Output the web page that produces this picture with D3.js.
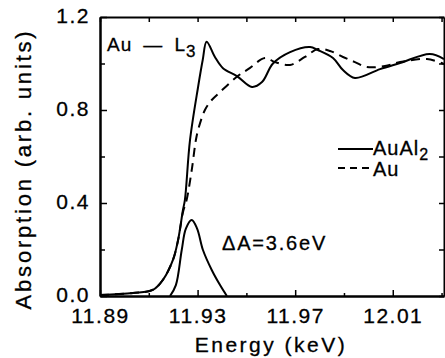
<!DOCTYPE html>
<html>
  <head>
    <meta charset="utf-8" />
    <title>Au L3 edge absorption</title>
    <script src="https://d3js.org/d3.v7.min.js"></script>
    <style>
      body { margin: 0; background: #fff; }
      svg text { font-family: "Liberation Sans", Arial, sans-serif; fill: #000; stroke: #000; stroke-width: 0.3; }
      .axis path, .axis line { stroke: #000; }
      .axis path { stroke-width: 2; }
      .axis line { stroke-width: 1.5; }
      .curve { fill: none; stroke: #000; stroke-width: 2; }
    </style>
  </head>
  <body>
    <svg width="445" height="358"></svg>
    <script>
      // AuAl2 (solid)
      const auAl2Energy = [11.89, 11.9035, 11.9117, 11.9158, 11.9199, 11.922, 11.924, 11.9248, 11.9269,
        11.9302, 11.9321, 11.9337, 11.9371, 11.9404, 11.9461, 11.9523, 11.9564, 11.9609, 11.9679,
        11.9761, 11.9793, 11.9855, 11.9896, 11.9945, 12.0048, 12.013, 12.0252, 12.031];
      const auAl2Abs = [0.004, 0.013, 0.026, 0.069, 0.155, 0.241, 0.37, 0.413, 0.671,
        0.899, 1.015, 1.094, 1.028, 0.98, 0.946, 0.899, 0.92, 1.0, 1.049,
        1.071, 1.058, 1.024, 0.972, 0.938, 0.976, 1.002, 1.041, 1.019];

      // Au (dashed)
      const auEnergy = [11.89, 11.9035, 11.9117, 11.9158, 11.9199, 11.922, 11.924, 11.9255, 11.9276,
        11.9293, 11.9302, 11.933, 11.9358, 11.9392, 11.946, 11.9515, 11.9576, 11.9617, 11.9679,
        11.974, 11.9793, 11.9843, 11.9896, 11.9945, 11.9994, 12.0068, 12.013, 12.024, 12.031];
      const auAbs = [0.004, 0.013, 0.027, 0.07, 0.155, 0.24, 0.36, 0.413, 0.542,
        0.671, 0.714, 0.8, 0.843, 0.877, 0.942, 0.981, 1.024, 1.006, 0.994,
        1.028, 1.062, 1.054, 1.028, 1.006, 0.985, 0.989, 1.006, 1.019, 0.998];

      // difference peak
      const diffEnergy = [11.9187, 11.9211, 11.9235, 11.9252, 11.9276, 11.9298, 11.9322, 11.9358, 11.9392, 11.942];
      const diffAbs = [0, 0.047, 0.198, 0.29, 0.327, 0.29, 0.198, 0.112, 0.047, 0];

      const xMajor = [11.89, 11.93, 11.97, 12.01];
      const xMinor = [11.91, 11.95, 11.99, 12.03];
      const yMajor = [0.0, 0.4, 0.8, 1.2];
      const yMinor = [0.2, 0.6, 1.0];

      const svg = d3.select("svg");
      const margin = { top: 17, right: 1, bottom: 62, left: 100 };
      const width = +svg.attr("width") - margin.left - margin.right;
      const height = +svg.attr("height") - margin.top - margin.bottom;
      const g = svg.append("g")
        .attr("transform", "translate(" + margin.left + "," + margin.top + ")");

      const x = d3.scaleLinear().domain([11.89, 12.031]).range([0, width]);
      const y = d3.scaleLinear().domain([0, 1.2]).range([height, 0]);

      g.append("clipPath").attr("id", "clip")
        .append("rect").attr("width", width).attr("height", height);

      // axes: ticks point inward on all four sides
      const fmtX = d3.format(".2f");
      g.append("g").attr("class", "axis")
        .attr("transform", "translate(0," + height + ")")
        .call(d3.axisBottom(x).tickValues(xMajor).tickFormat(fmtX).tickSizeInner(-6).tickSizeOuter(0).tickPadding(9))
        .call((a) => a.selectAll("text").attr("font-size", 21).attr("letter-spacing", 1.5).attr("dy", "0.85em"));
      g.append("g").attr("class", "axis")
        .attr("transform", "translate(0," + height + ")")
        .call(d3.axisBottom(x).tickValues(xMinor).tickFormat("").tickSizeInner(-3).tickSizeOuter(0));
      g.append("g").attr("class", "axis")
        .call(d3.axisTop(x).tickValues(xMajor.concat(xMinor)).tickFormat("").tickSizeInner(-5).tickSizeOuter(0));

      g.append("g").attr("class", "axis")
        .call(d3.axisLeft(y).tickValues(yMajor).tickFormat(d3.format(".1f")).tickSizeInner(-7).tickSizeOuter(0).tickPadding(10))
        .call((a) => a.selectAll("text").attr("font-size", 21).attr("letter-spacing", 1.5).attr("dy", "0.28em"));
      g.append("g").attr("class", "axis")
        .call(d3.axisLeft(y).tickValues(yMinor).tickFormat("").tickSizeInner(-5).tickSizeOuter(0));
      g.append("g").attr("class", "axis")
        .attr("transform", "translate(" + width + ",0)")
        .call(d3.axisRight(y).tickValues(yMajor.concat(yMinor)).tickFormat("").tickSizeInner(-5).tickSizeOuter(0));

      // axis titles
      svg.append("text")
        .attr("x", 271)
        .attr("y", 352)
        .attr("text-anchor", "middle")
        .attr("font-size", 21)
        .attr("letter-spacing", 2.5)
        .text("Energy (keV)");
      svg.append("text")
        .attr("transform", "translate(31,169) rotate(-90)")
        .attr("text-anchor", "middle")
        .attr("font-size", 22)
        .attr("letter-spacing", 2.8)
        .text("Absorption (arb. units)");

      // curves
      const line = (xs, ys) => d3.line()
        .x((d, i) => x(xs[i]))
        .y((d, i) => y(ys[i]))
        .curve(d3.curveCatmullRom.alpha(0.5))(xs);

      const plot = g.append("g").attr("clip-path", "url(#clip)");
      plot.append("path").attr("class", "curve").attr("d", line(auEnergy, auAbs))
        .attr("stroke-dasharray", "9,6");
      plot.append("path").attr("class", "curve").attr("d", line(auAl2Energy, auAl2Abs));
      plot.append("path").attr("class", "curve").attr("d", line(diffEnergy, diffAbs));

      // labels
      const edge = g.append("text").attr("x", 7).attr("y", 34).attr("font-size", 19).attr("letter-spacing", 1);
      edge.append("tspan").text("Au \u2009\u2014\u2009 L");
      edge.append("tspan").attr("font-size", 17).attr("dy", 6).text("3");

      g.append("text").attr("x", 122).attr("y", 233).attr("font-size", 20).attr("letter-spacing", 1.8)
        .text("\u0394A=3.6eV");

      // legend
      const leg = g.append("g").attr("transform", "translate(238,132)");
      leg.append("line").attr("class", "curve").attr("x1", 0).attr("x2", 35).attr("y1", 0).attr("y2", 0);
      const t1 = leg.append("text").attr("x", 35).attr("y", 6).attr("font-size", 20).attr("letter-spacing", 1);
      t1.append("tspan").text("AuAl");
      t1.append("tspan").attr("font-size", 16).attr("dy", 5).text("2");
      leg.append("line").attr("class", "curve").attr("x1", 0).attr("x2", 35).attr("y1", 19).attr("y2", 19)
        .attr("stroke-dasharray", "7,5");
      leg.append("text").attr("x", 35).attr("y", 27).attr("font-size", 20).attr("letter-spacing", 1).text("Au");
    </script>
  </body>
</html>
